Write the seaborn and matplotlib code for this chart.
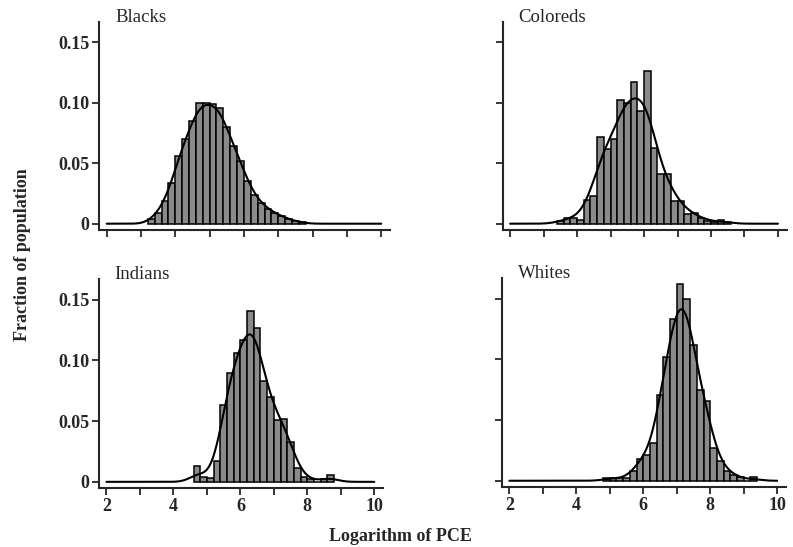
import numpy as np
import pandas as pd
import seaborn as sns
from matplotlib import pyplot as plt
from matplotlib.ticker import FixedLocator, FuncFormatter

# fraction of population per 0.2-wide bin of log PCE
bin_width = 0.2

blacks_start = 3.2
blacks_frac = [0.004, 0.009, 0.019, 0.034, 0.056, 0.070, 0.085, 0.100, 0.100, 0.099, 0.096, 0.080,
               0.064, 0.052, 0.035, 0.024, 0.017, 0.012, 0.009, 0.006, 0.004, 0.002, 0.001]

coloreds_start = 3.4
coloreds_frac = [0.002, 0.005, 0.005, 0.003, 0.020, 0.023, 0.072, 0.062, 0.070, 0.102, 0.100, 0.117,
                 0.093, 0.126, 0.063, 0.041, 0.041, 0.019, 0.019, 0.008, 0.009, 0.005, 0.002, 0.001,
                 0.003, 0.001]

indians_start = 4.6
indians_frac = [0.013, 0.004, 0.003, 0.017, 0.063, 0.090, 0.106, 0.117, 0.141, 0.127, 0.083, 0.070,
                0.051, 0.052, 0.033, 0.011, 0.004, 0.002, 0.0, 0.002, 0.006]

whites_start = 4.8
whites_frac = [0.002, 0.002, 0.002, 0.002, 0.008, 0.018, 0.021, 0.031, 0.071, 0.102, 0.133, 0.162,
               0.150, 0.112, 0.075, 0.066, 0.027, 0.016, 0.008, 0.005, 0.003, 0.0, 0.003]

groups = ['Blacks', 'Coloreds', 'Indians', 'Whites']
starts = [blacks_start, coloreds_start, indians_start, whites_start]
fracs = [blacks_frac, coloreds_frac, indians_frac, whites_frac]
smooth = [0.45, 0.6, 0.6, 0.6]

y_ticks = [0, 0.05, 0.10, 0.15]
y_ticklabels = ['0', '0.05', '0.10', '0.15']
x_ticks = [2, 3, 4, 5, 6, 7, 8, 9, 10]
x_labelled = [2, 4, 6, 8, 10]

sns.set_style('ticks')
plt.rcParams['font.family'] = ['Liberation Serif', 'DejaVu Serif']
plt.rcParams['axes.linewidth'] = 1.5

fig, axes = plt.subplots(2, 2, figsize=(7.93, 5.47), dpi=100)
positions = [[0.125, 0.58, 0.367, 0.38], [0.634, 0.58, 0.358, 0.38],
             [0.125, 0.108, 0.358, 0.382], [0.633, 0.11, 0.358, 0.382]]

for i, ax in enumerate(axes.flat):
    ax.set_position(positions[i])
    n = len(fracs[i])
    centers = starts[i] + bin_width * (np.arange(n) + 0.5)
    df = pd.DataFrame({'logpce': centers, 'frac': fracs[i]})
    sns.histplot(data=df, x='logpce', weights='frac', binwidth=bin_width,
                 binrange=(starts[i], starts[i] + n * bin_width), stat='count',
                 kde=True, kde_kws={'bw_adjust': smooth[i], 'cut': 30, 'clip': (2, 10), 'gridsize': 400},
                 line_kws={'color': 'black', 'lw': 1.5},
                 color='#8a8a8a', edgecolor='black', linewidth=1.1, alpha=1, ax=ax)
    ax.lines[0].set_color('black')
    ax.set_xlim(1.78, 10.26)
    ax.set_ylim(-0.005, 0.167)
    sns.despine(ax=ax)
    ax.set_xlabel('')
    ax.set_ylabel('')
    ax.xaxis.set_major_locator(FixedLocator(x_ticks))
    ax.yaxis.set_major_locator(FixedLocator(y_ticks))
    ax.tick_params(direction='out', length=5, width=1.3, labelsize=13, pad=2)
    if i >= 2:
        ax.xaxis.set_major_formatter(FuncFormatter(lambda v, p: str(int(v)) if int(v) in x_labelled else ''))
    else:
        ax.set_xticklabels([])
    if i % 2 == 0:
        ax.set_yticklabels(y_ticklabels)
    else:
        ax.set_yticklabels([])
    for lab in ax.get_xticklabels() + ax.get_yticklabels():
        lab.set_fontweight('bold')
    ax.text(0.055, 1.02, groups[i], transform=ax.transAxes, fontsize=13.5, va='center', ha='left')

fig.text(0.028, 0.534, 'Fraction of population', rotation=90, fontsize=13, fontweight='bold',
         va='center', ha='center')
fig.text(0.505, 0.02, 'Logarithm of PCE', fontsize=13, fontweight='bold', va='center', ha='center')

fig.savefig('out.png', dpi=100)
